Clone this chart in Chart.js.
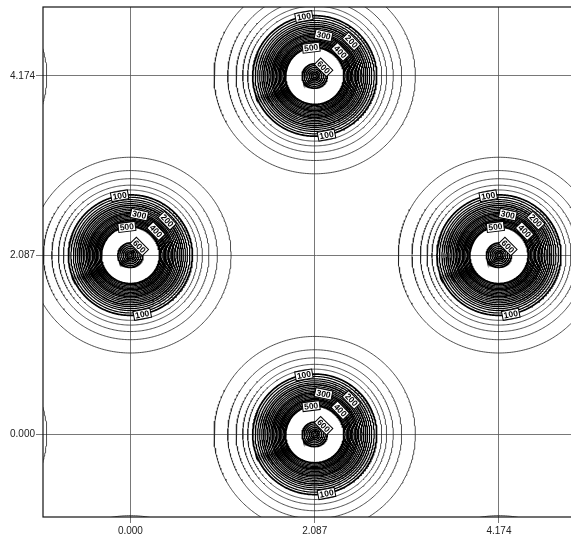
<!DOCTYPE html>
<html>
<head>
<meta charset="utf-8">
<script src="https://cdn.jsdelivr.net/npm/chart.js@4.4.1/dist/chart.umd.min.js"></script>
<style>
  html, body { margin: 0; padding: 0; overflow: hidden; background: #fff; }
  canvas { display: block; }
</style>
</head>
<body>
<canvas id="c" width="600" height="541"></canvas>
<script>
// Peak centres of the lattice; the ones outside the frame only show as clipped arcs
const peakX = [0, 2.087, 2.087, 4.174, -2.087, -2.087, 0, 4.174, 6.261, 6.261, 0, 4.174];
const peakY = [2.087, 0, 4.174, 2.087, 0, 4.174, -2.087, -2.087, 0, 4.174, 6.261, 6.261];
const visiblePeaks = 4;

// Contour levels and the ring radius (axis units) at which each level sits around a peak
const levels = [10, 20, 40, 60, 80,
  100, 120, 140, 160, 180, 200, 220, 240, 260, 280, 300,
  320, 340, 360, 380, 400, 420, 440, 460, 480, 500,
  600, 620, 640, 660, 680, 700, 720];
const radii = [1.14, 0.985, 0.89, 0.815, 0.759,
  0.702, 0.674, 0.646, 0.623, 0.600, 0.578, 0.555, 0.536, 0.518, 0.499, 0.482,
  0.465, 0.450, 0.434, 0.418, 0.403, 0.388, 0.374, 0.359, 0.344, 0.331,
  0.142, 0.121, 0.100, 0.080, 0.060, 0.040, 0.020];

// Axis ticks
const tickValues = [0, 2.087, 4.174];

// Where the inline level labels sit on their rings (angle in degrees, counter-clockwise from +x)
const labelLevels = [100, 100, 200, 300, 400, 500, 600];
const labelAngles = [100, -79, 44, 78, 44, 97, 45];

function ringWidth(lev) {
  if (lev % 100 === 0) return 1.7;
  if (lev < 100) return 0.8;
  return 1.2;
}

const datasets = [];
peakX.forEach((cx, p) => {
  const cy = peakY[p];
  levels.forEach((lev, k) => {
    const r = radii[k];
    const pts = [];
    const n = 360;
    for (let i = 0; i <= n; i++) {
      const t = (i / n) * 2 * Math.PI + 0.37;
      pts.push({ x: cx + r * Math.cos(t), y: cy + r * Math.sin(t) });
    }
    datasets.push({
      data: pts,
      showLine: true,
      pointRadius: 0,
      borderColor: lev < 100 ? '#222' : '#000',
      borderWidth: ringWidth(lev),
      fill: false,
      tension: 0
    });
  });
});

// Boxed level labels laid along the rings
const ringLabels = {
  id: 'ringLabels',
  afterDatasetsDraw(chart) {
    const { ctx, scales: { x, y } } = chart;
    ctx.save();
    ctx.font = 'bold 8.5px "Liberation Sans", Arial, sans-serif';
    ctx.textAlign = 'center';
    ctx.textBaseline = 'middle';
    for (let p = 0; p < visiblePeaks; p++) {
      labelLevels.forEach((lev, j) => {
        const r = radii[levels.indexOf(lev)];
        const th = labelAngles[j] * Math.PI / 180;
        const px = x.getPixelForValue(peakX[p] + r * Math.cos(th));
        const py = y.getPixelForValue(peakY[p] + r * Math.sin(th));
        let rot = 90 - labelAngles[j];
        if (rot > 90) rot -= 180;
        if (rot < -90) rot += 180;
        const txt = String(lev);
        const w = ctx.measureText(txt).width + 3;
        const h = 9;
        ctx.save();
        ctx.translate(px, py);
        ctx.rotate(rot * Math.PI / 180);
        ctx.fillStyle = '#fff';
        ctx.fillRect(-w / 2, -h / 2, w, h);
        ctx.strokeStyle = '#000';
        ctx.lineWidth = 1;
        ctx.strokeRect(-w / 2, -h / 2, w, h);
        ctx.fillStyle = '#000';
        ctx.fillText(txt, 0, 0.5);
        ctx.restore();
      });
    }
    ctx.restore();
  },
  afterDraw(chart) {
    const { ctx, chartArea: a } = chart;
    ctx.save();
    ctx.strokeStyle = '#111';
    ctx.lineWidth = 1.2;
    ctx.strokeRect(a.left, a.top, a.right - a.left, a.bottom - a.top);
    ctx.restore();
  }
};

Chart.defaults.font.family = '"Liberation Sans", Arial, sans-serif';

new Chart(document.getElementById('c'), {
  type: 'scatter',
  data: { datasets },
  options: {
    responsive: false,
    animation: false,
    events: [],
    layout: { padding: { left: 0, top: 5, right: 10, bottom: 0 } },
    plugins: { legend: { display: false }, tooltip: { enabled: false } },
    scales: {
      x: {
        type: 'linear',
        min: -0.99,
        max: 5.205,
        afterBuildTicks: s => { s.ticks = tickValues.map(v => ({ value: v })); },
        afterFit: s => { s.height = 24; },
        ticks: { callback: v => Number(v).toFixed(3), color: '#222', font: { size: 10 }, padding: 2, maxRotation: 0 },
        grid: { color: '#555', lineWidth: 0.8, tickLength: 6 },
        border: { display: false }
      },
      y: {
        type: 'linear',
        min: -0.963,
        max: 4.977,
        afterBuildTicks: s => { s.ticks = tickValues.map(v => ({ value: v })); },
        afterFit: s => { s.width = 43; },
        ticks: { callback: v => Number(v).toFixed(3), color: '#222', font: { size: 10 }, padding: 1 },
        grid: { color: '#555', lineWidth: 0.8, tickLength: 7 },
        border: { display: false }
      }
    }
  },
  plugins: [ringLabels]
});
</script>
</body>
</html>
